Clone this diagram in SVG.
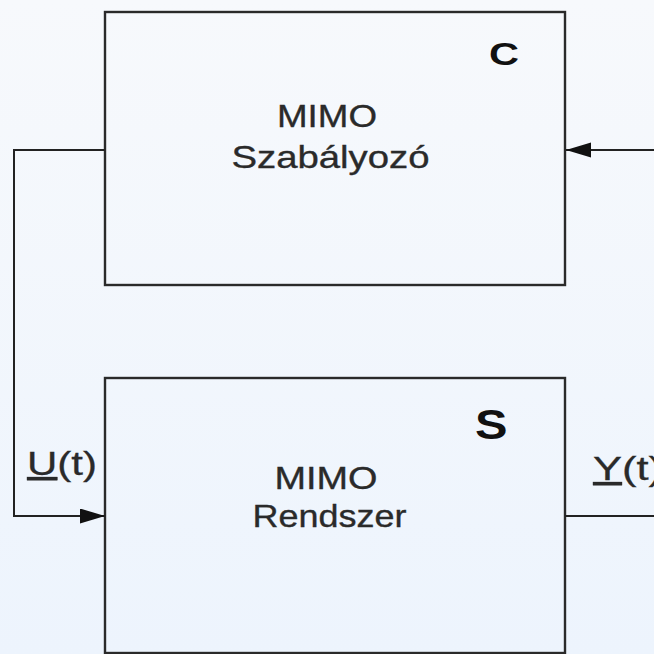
<svg xmlns="http://www.w3.org/2000/svg" width="654" height="654" viewBox="0 0 654 654">
  <defs>
    <linearGradient id="bg" x1="0" y1="0" x2="0" y2="1">
      <stop offset="0" stop-color="#f7f9fc"/>
      <stop offset="1" stop-color="#edf4fd"/>
    </linearGradient>
    <marker id="arrow" markerUnits="userSpaceOnUse" markerWidth="26" markerHeight="16" refX="25" refY="7.5" orient="auto">
      <path d="M0,0 L25,7.5 L0,15 z" fill="#111"/>
    </marker>
    <style>
      .box { fill: none; stroke: #2a2a2a; stroke-width: 2.4; }
      .wire { fill: none; stroke: #222; stroke-width: 2; }
      .lbl { font-family: "Liberation Sans", Arial, sans-serif; font-size: 32px; fill: #2a2a2a; stroke: #2a2a2a; stroke-width: 0.35; }
      .tag { font-family: "Liberation Sans", Arial, sans-serif; font-weight: bold; fill: #111; }
      .sig { font-family: "Liberation Sans", Arial, sans-serif; font-size: 33px; fill: #2a2a2a; stroke: #2a2a2a; stroke-width: 0.3; }
    </style>
  </defs>
  <rect x="0" y="0" width="654" height="654" fill="url(#bg)"/>

  <g id="node-C">
    <rect class="box" x="105" y="12" width="460" height="273"/>
    <text class="tag" x="489" y="64.5" font-size="31" textLength="30" lengthAdjust="spacingAndGlyphs">C</text>
    <text class="lbl" x="277" y="126.5" textLength="100" lengthAdjust="spacingAndGlyphs">MIMO</text>
    <text class="lbl" x="231.5" y="168" textLength="198" lengthAdjust="spacingAndGlyphs">Szabályozó</text>
  </g>

  <g id="node-S">
    <rect class="box" x="105" y="378" width="460" height="275"/>
    <text class="tag" x="475" y="439" font-size="42" textLength="32.5" lengthAdjust="spacingAndGlyphs">S</text>
    <text class="lbl" x="274.5" y="489.3" textLength="103" lengthAdjust="spacingAndGlyphs">MIMO</text>
    <text class="lbl" x="252.5" y="527.3" textLength="154" lengthAdjust="spacingAndGlyphs">Rendszer</text>
  </g>

  <g id="connectors">
    <polyline class="wire" points="105,150 14,150 14,516 105,516" marker-end="url(#arrow)"/>
    <line class="wire" x1="654" y1="150" x2="566" y2="150" marker-end="url(#arrow)"/>
    <line class="wire" x1="565" y1="516" x2="654" y2="516"/>
  </g>

  <g id="labels">
    <text class="sig" x="27" y="475" textLength="70" lengthAdjust="spacingAndGlyphs"><tspan text-decoration="underline">U</tspan>(t)</text>
    <text class="sig" x="593" y="480" textLength="70" lengthAdjust="spacingAndGlyphs"><tspan text-decoration="underline">Y</tspan>(t)</text>
  </g>
</svg>
